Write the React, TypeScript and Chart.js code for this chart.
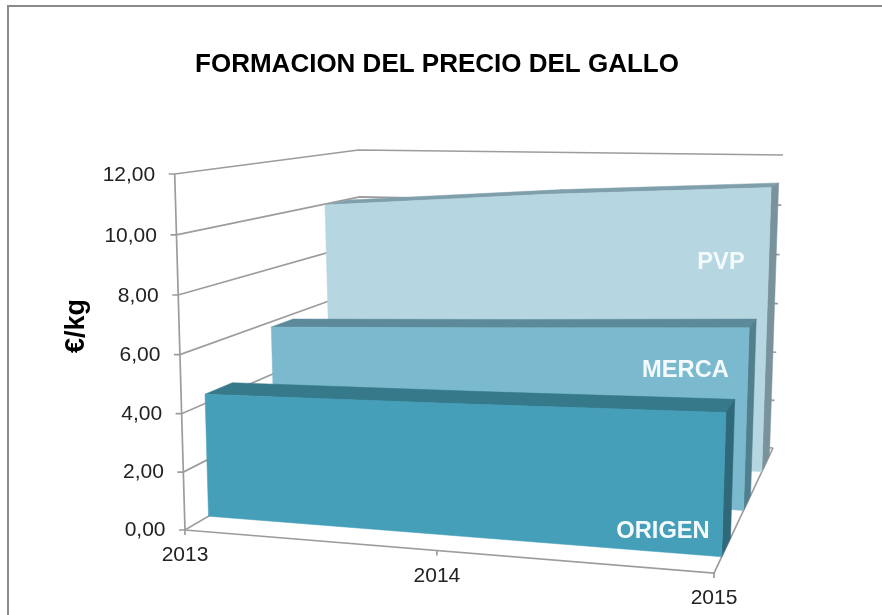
import React, { useEffect, useRef } from "react";
import { Chart, registerables, LinearScale, CategoryScale } from "chart.js";

Chart.register(...registerables);

const years = ["2013", "2014", "2015"];
const origen = [4.32, 4.47, 4.66];
const merca = [5.8, 6.14, 6.5];
const pvp = [9.96, 10.56, 10.97];
const yTicksMax = 12;
const yStep = 2;
const chartTitle = "FORMACION DEL PRECIO DEL GALLO";
const yTitle = "€/kg";

// Camera box of the 3D chart: front/back, left/right, floor/top.
const FL0 = [185, 530], FL1 = [174.7, 174];
const FR0 = [714, 573], FR1 = [725.5, 182];
const BL0 = [366, 424], BL1 = [358.5, 150];
const BR0 = [773, 448], BR1 = [783, 155];
const AXIS = "#9c9c9c";
const TEXT = "#222222";
const FONT = "'Liberation Sans', Arial, sans-serif";

const lerp = (a: number[], b: number[], k: number) => [a[0] + (b[0] - a[0]) * k, a[1] + (b[1] - a[1]) * k];

function project(u: number, t: number, z: number) {
  const w = 1.1 - 0.1 * z;
  const uu = u / (u + (1 - u) * w);
  const f0 = lerp(FL0, FR0, uu), f1 = lerp(FL1, FR1, uu);
  const b0 = lerp(BL0, BR0, uu), b1 = lerp(BL1, BR1, uu);
  return lerp(lerp(f0, f1, t), lerp(b0, b1, t), z);
}

class PerspectiveLinearScale extends LinearScale {
  static id = "perspectiveLinear";
  getPixelForDecimal(d: number) {
    return super.getPixelForDecimal(d / (1 + 0.03 * (1 - d)));
  }
  _computeLabelItems(area: any) {
    const items = super._computeLabelItems(area);
    for (const it of items) {
      const tr = it.options.translation;
      const t = (this.bottom - tr[1]) / (this.bottom - this.top);
      tr[0] = project(0, t, 0)[0] - 19.5;
      tr[1] += 1.5 * t;
      it.options.textAlign = "right";
    }
    return items;
  }
  drawTitle() {
    const ctx = this.ctx;
    ctx.save();
    ctx.translate(0, -26);
    super.drawTitle();
    ctx.restore();
  }
}

class PerspectiveCategoryScale extends CategoryScale {
  static id = "perspectiveCategory";
  _computeLabelItems(area: any) {
    const items = super._computeLabelItems(area);
    for (const it of items) {
      const tr = it.options.translation;
      const u = (tr[0] - this.left) / (this.right - this.left);
      const p = project(u, 0, 0);
      tr[0] = p[0];
      tr[1] = p[1] + 25.5;
      it.textOffset = 0;
      it.options.textAlign = "center";
      it.options.textBaseline = "middle";
    }
    return items;
  }
}
Chart.register(PerspectiveLinearScale, PerspectiveCategoryScale);

const looks = [
  { z: 0.13, d: 0.15, front: "#459FB9", top: "#35798A", side: "#2F6979", lx: 663, ly: 531 },
  { z: 0.5, d: 0.12, front: "#7BB9CF", top: "#5D8A9B", side: "#527F8E", lx: 685.5, ly: 370 },
  { z: 0.81, d: 0.13, front: "#B6D6E2", top: "#7F9FAC", side: "#7A929C", lx: 721, ly: 262 },
];

function poly(ctx: CanvasRenderingContext2D, pts: number[][], fill: string) {
  ctx.beginPath();
  pts.forEach((p, i) => (i ? ctx.lineTo(p[0], p[1]) : ctx.moveTo(p[0], p[1])));
  ctx.closePath();
  ctx.fillStyle = fill;
  ctx.fill();
  ctx.lineWidth = 0.5;
  ctx.strokeStyle = fill;
  ctx.stroke();
}

const box3d = {
  id: "box3d",
  beforeDraw(chart: any) {
    const ctx = chart.ctx;
    ctx.save();
    ctx.fillStyle = "#ffffff";
    ctx.fillRect(0, 0, chart.width, chart.height);
    ctx.strokeStyle = "#8a8a8a";
    ctx.lineWidth = 2;
    ctx.beginPath();
    ctx.moveTo(8, chart.height + 2);
    ctx.lineTo(8, 6);
    ctx.lineTo(chart.width + 2, 6);
    ctx.stroke();
    ctx.restore();
  },
  beforeDatasetsDraw(chart: any) {
    const { ctx, scales } = chart;
    const y = scales.y, x = scales.x;
    ctx.save();
    ctx.strokeStyle = AXIS;
    ctx.lineWidth = 1.7;
    const seg = (...pts: number[][]) => {
      ctx.beginPath();
      pts.forEach((p, i) => (i ? ctx.lineTo(p[0], p[1]) : ctx.moveTo(p[0], p[1])));
      ctx.stroke();
    };
    y.ticks.forEach((tk: any) => {
      const t = (y.bottom - y.getPixelForValue(tk.value)) / (y.bottom - y.top);
      const a = project(0, t, 0);
      seg([a[0] - 6, a[1]], a, project(0, t, 1), project(1, t, 1));
    });
    seg(project(0, 0, 0), project(0, 1, 0));
    seg(project(0, 0, 0), project(1, 0, 0), project(1, 0, 1));
    x.ticks.forEach((_: any, i: number) => {
      const u = (x.getPixelForTick(i) - x.left) / (x.right - x.left);
      const a = project(u, 0, 0);
      seg(a, [a[0], a[1] + 5]);
    });
    ctx.restore();
  },
  beforeDatasetDraw(chart: any, args: any) {
    const { ctx, chartArea: ca } = chart;
    const pts = args.meta.data;
    const look = looks[args.index];
    const uv = pts.map((p: any) => [
      (p.x - ca.left) / (ca.right - ca.left),
      (ca.bottom - p.y) / (ca.bottom - ca.top),
    ]);
    const { z, d } = look;
    ctx.save();
    for (let i = 0; i < uv.length - 1; i++) {
      const [a, b] = [uv[i], uv[i + 1]];
      poly(ctx, [project(a[0], a[1], z), project(b[0], b[1], z), project(b[0], b[1], z + d), project(a[0], a[1], z + d)], look.top);
    }
    const last = uv[uv.length - 1];
    poly(ctx, [project(1, 0, z), project(1, last[1], z), project(1, last[1], z + d), project(1, 0, z + d)], look.side);
    poly(ctx, [project(0, 0, z), ...uv.map((q: number[]) => project(q[0], q[1], z)), project(1, 0, z)], look.front);
    ctx.restore();
    return false;
  },
  afterDatasetsDraw(chart: any) {
    const ctx = chart.ctx;
    ctx.save();
    ctx.fillStyle = "#f4fafc";
    ctx.font = `bold 23.7px ${FONT}`;
    ctx.textAlign = "center";
    ctx.textBaseline = "middle";
    chart.data.datasets.forEach((ds: any, i: number) => {
      ctx.fillText(ds.label, looks[i].lx, looks[i].ly);
    });
    ctx.restore();
  },
};

export default function App() {
  const ref = useRef<HTMLCanvasElement>(null);
  useEffect(() => {
    const chart = new Chart(ref.current as HTMLCanvasElement, {
      type: "line",
      data: {
        labels: years,
        datasets: [
          { label: "ORIGEN", data: origen, borderWidth: 0, pointRadius: 0 },
          { label: "MERCA", data: merca, borderWidth: 0, pointRadius: 0 },
          { label: "PVP", data: pvp, borderWidth: 0, pointRadius: 0 },
        ],
      },
      options: {
        responsive: false,
        animation: false,
        layout: { padding: { left: 0, right: 8, top: 0, bottom: 0 } },
        plugins: {
          legend: { display: false },
          tooltip: { enabled: false },
          title: {
            display: true,
            text: chartTitle,
            color: "#000000",
            font: { family: FONT, size: 26, weight: "bold", lineHeight: 1.2 },
            padding: { top: 49.4, bottom: 93.4 },
          },
        },
        scales: {
          x: {
            type: "perspectiveCategory",
            grid: { display: false },
            border: { display: false },
            ticks: { color: TEXT, font: { family: FONT, size: 21 }, autoSkip: false, maxRotation: 0, minRotation: 0 },
            afterFit: (s: any) => { s.height = 85; },
          },
          y: {
            type: "perspectiveLinear",
            min: 0,
            max: yTicksMax,
            grid: { display: false },
            border: { display: false },
            ticks: {
              stepSize: yStep,
              color: TEXT,
              padding: 0,
              font: { family: FONT, size: 21 },
              callback: (v: any) => Number(v).toFixed(2).replace(".", ","),
            },
            title: {
              display: true,
              text: yTitle,
              color: "#000000",
              font: { family: FONT, size: 27, weight: "bold", lineHeight: 1.2 },
              padding: { top: 60, bottom: 0 },
            },
            afterFit: (s: any) => { s.width = 185; },
          },
          yRight: {
            type: "linear",
            position: "right",
            grid: { display: false },
            border: { display: false },
            ticks: { display: false },
            afterFit: (s: any) => { s.width = 160; },
          },
        },
      },
      plugins: [box3d],
    } as any);
    return () => chart.destroy();
  }, []);
  return (
    <canvas
      ref={ref}
      width={882}
      height={615}
      style={{ position: "fixed", left: 0, top: 0, display: "block" }}
    />
  );
}
